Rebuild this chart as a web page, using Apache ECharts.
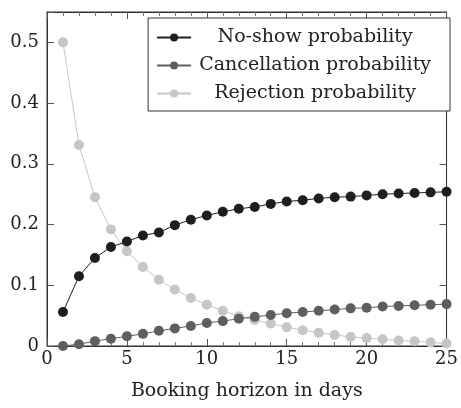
<!DOCTYPE html>
<html><head><meta charset="utf-8">
<script src="https://cdn.jsdelivr.net/npm/echarts@6/dist/echarts.min.js"></script>
<style>html,body{margin:0;padding:0;background:#fff}#c{width:461px;height:408px}</style>
</head><body><div id="c"></div>
<script>
const days = [1,2,3,4,5,6,7,8,9,10,11,12,13,14,15,16,17,18,19,20,21,22,23,24,25];
const noShow = [0.056,0.115,0.145,0.163,0.172,0.182,0.187,0.199,0.208,0.215,0.221,0.226,0.229,0.234,0.238,0.240,0.243,0.245,0.246,0.248,0.250,0.251,0.252,0.253,0.254];
const cancellation = [0.000,0.003,0.008,0.012,0.016,0.020,0.025,0.029,0.033,0.038,0.041,0.045,0.048,0.051,0.054,0.056,0.058,0.060,0.062,0.063,0.065,0.066,0.067,0.068,0.069];
const rejection = [0.500,0.331,0.245,0.192,0.156,0.130,0.109,0.093,0.079,0.068,0.058,0.049,0.043,0.037,0.031,0.026,0.022,0.018,0.015,0.013,0.011,0.009,0.008,0.006,0.004];
const seriesNames = ['No-show probability','Cancellation probability','Rejection probability'];
const colors = ['#1e1e1e','#5e5e5e','#c6c6c6'];
const font = 'DejaVu Serif';

const chart = echarts.init(document.getElementById('c'), null, {renderer:'canvas'});
function mkX(pos, labels){
  return {type:'value', position:pos, min:0, max:25, interval:5,
    axisLine:{show:true, onZero:false, lineStyle:{color:'#333', width:1}},
    axisTick:{show:true, inside:true, length:7, lineStyle:{color:'#555'}},
    minorTick:{show:true, splitNumber:5, length:4, lineStyle:{color:'#777'}},
    axisLabel:{show:true, color:'#222', fontFamily:font, fontSize:18, margin:4,
      formatter: v => labels ? String(v) : ''},
    splitLine:{show:false},
    name: labels ? 'Booking horizon in days' : undefined, nameLocation:'middle', nameGap:36,
    nameTextStyle:{color:'#222', fontFamily:font, fontSize:19}};
}
function mkY(pos, labels){
  return {type:'value', position:pos, min:0, max:0.55, interval:0.1,
    axisLine:{show:true, onZero:false, lineStyle:{color:'#333', width:1}},
    axisTick:{show:true, inside:true, length:7, lineStyle:{color:'#555'}},
    axisLabel:{show:true, color:'#222', fontFamily:font, fontSize:18, margin:8,
      formatter: v => (!labels || v > 0.5001 ? '' : String(+v.toFixed(1)))},
    splitLine:{show:false}};
}
const dataSets = [noShow, cancellation, rejection];
const series = [2,1,0].map(i => ({
  name: seriesNames[i], type:'line', xAxisIndex:0, yAxisIndex:0,
  data: days.map((d,k) => [d, dataSets[i][k]]),
  symbol:'circle', symbolSize:10, showSymbol:true,
  itemStyle:{color:colors[i], borderWidth:0},
  lineStyle:{color:colors[i], width:1},
  z: 10 - i, animation:false
}));
series.push({name:'_frame', type:'line', xAxisIndex:1, yAxisIndex:1,
  data: days.map((d,k) => [d, noShow[k]]), symbol:'none', silent:true,
  lineStyle:{opacity:0}});
chart.setOption({
  animation:false,
  backgroundColor:'#fff',
  grid:{left:47, right:6, top:12, bottom:62, show:true, borderColor:'#333', borderWidth:1, backgroundColor:'transparent'},
  xAxis:[mkX('bottom', true), mkX('top', false)],
  yAxis:[mkY('left', true), mkY('right', false)],
  legend:{
    data: seriesNames, orient:'vertical', right:11, top:18,
    backgroundColor:'#fff', borderColor:'#333', borderWidth:1,
    padding:[10,19,8,8], itemGap:9, itemWidth:34, itemHeight:10,
    formatter: n => '{t|' + n + '}',
    textStyle:{fontFamily:font, fontSize:19, color:'#222',
      rich:{t:{fontFamily:font, fontSize:19, color:'#222', width:238, align:'center'}}}
  },
  series
});
</script></body></html>
